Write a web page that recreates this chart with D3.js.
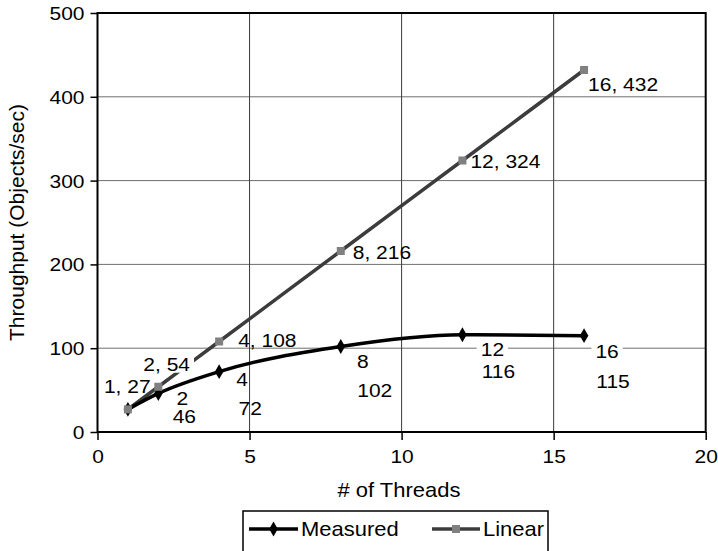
<!DOCTYPE html>
<html>
<head>
<meta charset="utf-8">
<script src="https://cdn.jsdelivr.net/npm/d3@7"></script>
<style>
  html, body { margin: 0; padding: 0; background: #fff; }
  svg { display: block; font-family: "Liberation Sans", Arial, Helvetica, sans-serif; }
</style>
</head>
<body>
<svg id="chart" width="718" height="551"></svg>
<script>
// Thread counts and throughput (objects/sec)
const threads = [1, 2, 4, 8, 12, 16];
const measured = [27, 46, 72, 102, 116, 115];
const linear = [27, 54, 108, 216, 324, 432];
const xTicks = [0, 5, 10, 15, 20];
const yTicks = [0, 100, 200, 300, 400, 500];
const seriesNames = ["Measured", "Linear"];

// Label placement relative to each point (pixels)
const measuredLabelPos = [
  null,
  { dx1: 24, dy1: 12, dx2: 26, dy2: 30 },
  { dx1: 23, dy1: 14, dx2: 31, dy2: 43 },
  { dx1: 22, dy1: 21, dx2: 34, dy2: 50 },
  { dx1: 30, dy1: 21, dx2: 36, dy2: 43, bg1: true },
  { dx1: 23, dy1: 22, dx2: 29, dy2: 52, bg1: true }
];
const linearLabelPos = [
  { dx: -24, dy: -16 },
  { dx: -15, dy: -16, bg: true },
  { dx: 19, dy: 6 },
  { dx: 12, dy: 8 },
  { dx: 8, dy: 8 },
  { dx: 4, dy: 21 }
];

const svg = d3.select("#chart");
const plotL = 97.5, plotR = 705.7, plotT = 13, plotB = 432;

const x = d3.scaleLinear().domain([0, 20]).range([plotL, plotR]);
const y = d3.scaleLinear().domain([0, 500]).range([plotB, plotT]);

const FONT = 21;      // tick and data label size
const TITLE = 22;     // axis title and legend size
const SQUASH = 0.9;   // glyphs are a little shorter than they are wide

// Horizontal text drawn at (tx, ty) baseline with a slight vertical squash
function txt(parent, tx, ty, str, anchor, size) {
  return parent.append("text")
    .attr("transform", `translate(${tx},${ty}) scale(1,${SQUASH})`)
    .attr("text-anchor", anchor)
    .style("font-size", size + "px")
    .attr("fill", "#000")
    .text(str);
}

// Grid lines
svg.append("g").selectAll("line").data(yTicks.filter(v => v > 0 && v < 500)).join("line")
  .attr("x1", plotL).attr("x2", plotR)
  .attr("y1", d => y(d)).attr("y2", d => y(d))
  .attr("stroke", "#6e6e6e").attr("stroke-width", 1);
svg.append("g").selectAll("line").data(xTicks.filter(v => v > 0 && v < 20)).join("line")
  .attr("x1", d => x(d)).attr("x2", d => x(d))
  .attr("y1", plotT).attr("y2", plotB)
  .attr("stroke", "#3a3a3a").attr("stroke-width", 1);

// Plot frame
svg.append("rect")
  .attr("x", plotL).attr("y", plotT)
  .attr("width", plotR - plotL).attr("height", plotB - plotT)
  .attr("fill", "none").attr("stroke", "#000").attr("stroke-width", 2);

// Axes
const yAxis = d3.axisLeft(y).tickValues(yTicks).tickSize(7);
const gy = svg.append("g").attr("transform", `translate(${plotL},0)`).call(yAxis);
const xAxis = d3.axisBottom(x).tickValues(xTicks).tickSize(8);
const gx = svg.append("g").attr("transform", `translate(0,${plotB})`).call(xAxis);
[gy, gx].forEach(g => {
  g.select(".domain").remove();
  g.selectAll(".tick line").attr("stroke", "#000").attr("stroke-width", 1.5);
  g.selectAll(".tick text").attr("fill", "#000")
    .attr("x", 0).attr("y", 0).attr("dy", null)
    .style("font-size", FONT + "px")
    .style("font-family", "'Liberation Sans', Arial, sans-serif");
});
gy.selectAll(".tick text").attr("transform", `translate(-13,6.5) scale(1,${SQUASH})`);
gx.selectAll(".tick text").attr("transform", `translate(0,31) scale(1,${SQUASH})`);

// Axis titles
txt(svg, 399, 497, "# of Threads", "middle", TITLE);
svg.append("text")
  .attr("transform", `translate(24,${(plotT + plotB) / 2}) rotate(-90)`)
  .attr("text-anchor", "middle")
  .style("font-size", "21px")
  .text("Throughput (Objects/sec)");

const measuredPts = threads.map((t, i) => ({ t, v: measured[i], i }));
const linearPts = threads.map((t, i) => ({ t, v: linear[i], i }));

const line = d3.line().x(d => x(d.t)).y(d => y(d.v)).curve(d3.curveMonotoneX);

// Series lines
svg.append("path").datum(linearPts)
  .attr("d", line).attr("fill", "none")
  .attr("stroke", "#3c3c3c").attr("stroke-width", 3.5);
svg.append("path").datum(measuredPts)
  .attr("d", line).attr("fill", "none")
  .attr("stroke", "#000").attr("stroke-width", 3.5);

// Markers
const diamond = d3.symbol().type(d3.symbolDiamond).size(64);
svg.append("g").selectAll("path").data(measuredPts).join("path")
  .attr("transform", d => `translate(${x(d.t)},${y(d.v)})`)
  .attr("d", diamond).attr("fill", "#000");
svg.append("g").selectAll("rect").data(linearPts).join("rect")
  .attr("x", d => x(d.t) - 4).attr("y", d => y(d.v) - 4)
  .attr("width", 8).attr("height", 8).attr("fill", "#808080");

// Data label with optional white backing box
function label(g, tx, ty, str, anchor, bg) {
  const node = g.append("g");
  const t = txt(node, tx, ty, str, anchor, FONT);
  if (bg) {
    const b = t.node().getBBox();
    node.insert("rect", "text")
      .attr("transform", `translate(${tx},${ty}) scale(1,${SQUASH})`)
      .attr("x", b.x - 4).attr("y", b.y + 2)
      .attr("width", b.width + 8).attr("height", b.height - 4)
      .attr("fill", "#fff");
  }
}

const labels = svg.append("g");
linearPts.forEach((d, i) => {
  const p = linearLabelPos[i];
  label(labels, x(d.t) + p.dx, y(d.v) + p.dy, `${d.t}, ${d.v}`, "start", p.bg);
});
measuredPts.forEach((d, i) => {
  const p = measuredLabelPos[i];
  if (!p) return;
  label(labels, x(d.t) + p.dx1, y(d.v) + p.dy1, `${d.t}`, "middle", p.bg1);
  label(labels, x(d.t) + p.dx2, y(d.v) + p.dy2, `${d.v}`, "middle", false);
});

// Legend
const lg = svg.append("g");
lg.append("rect")
  .attr("x", 243).attr("y", 511).attr("width", 305).attr("height", 60)
  .attr("fill", "#fff").attr("stroke", "#000").attr("stroke-width", 1.5);
const legendItems = [
  { name: seriesNames[0], x0: 249, x1: 298, color: "#000", marker: "diamond" },
  { name: seriesNames[1], x0: 432, x1: 480, color: "#3c3c3c", marker: "square" }
];
legendItems.forEach(it => {
  const ly = 529;
  lg.append("line").attr("x1", it.x0).attr("x2", it.x1).attr("y1", ly).attr("y2", ly)
    .attr("stroke", it.color).attr("stroke-width", 3.5);
  const cx = (it.x0 + it.x1) / 2;
  if (it.marker === "diamond") {
    lg.append("path").attr("transform", `translate(${cx},${ly})`).attr("d", diamond).attr("fill", "#000");
  } else {
    lg.append("rect").attr("x", cx - 4).attr("y", ly - 4).attr("width", 8).attr("height", 8).attr("fill", "#808080");
  }
  txt(lg, it.x1 + 3, ly + 7, it.name, "start", TITLE);
});
</script>
</body>
</html>
